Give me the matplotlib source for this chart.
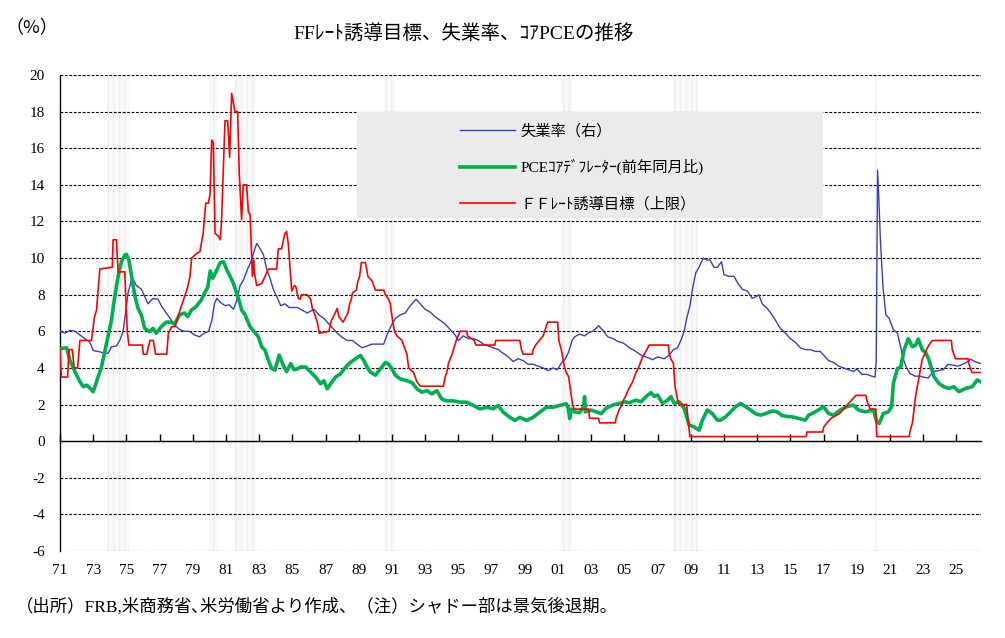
import matplotlib
matplotlib.use("Agg")
import matplotlib.pyplot as plt
from matplotlib.patches import Rectangle

plt.rcParams['font.family'] = ['Liberation Serif', 'Noto Sans CJK JP']
plt.rcParams['axes.unicode_minus'] = False

# --- data (decimal years) ---
unemp_year = [1971.0, 1971.3, 1971.6, 1971.9, 1972.2, 1972.5, 1972.8, 1973.0, 1973.3, 1973.7,
              1973.9, 1974.1, 1974.4, 1974.6, 1974.8, 1974.95, 1975.1, 1975.35, 1975.6, 1975.9,
              1976.1, 1976.3, 1976.6, 1976.9, 1977.1, 1977.4, 1977.6, 1977.9, 1978.2, 1978.5,
              1978.8, 1979.1, 1979.4, 1979.7, 1979.95, 1980.15, 1980.3, 1980.45, 1980.7, 1980.95,
              1981.2, 1981.45, 1981.65, 1981.85, 1982.05, 1982.3, 1982.5, 1982.7, 1982.85, 1983.0,
              1983.25, 1983.45, 1983.65, 1983.85, 1984.1, 1984.3, 1984.55, 1984.8, 1985.0, 1985.3,
              1985.6, 1985.9, 1986.1, 1986.3, 1986.6, 1986.9, 1987.1, 1987.4, 1987.7, 1987.95,
              1988.3, 1988.6, 1988.9, 1989.2, 1989.5, 1989.8, 1990.0, 1990.3, 1990.5, 1990.7,
              1990.95, 1991.2, 1991.5, 1991.8, 1992.1, 1992.45, 1992.7, 1993.0, 1993.3, 1993.6,
              1993.9, 1994.2, 1994.5, 1994.8, 1995.0, 1995.3, 1995.6, 1995.9, 1996.2, 1996.5,
              1996.8, 1997.1, 1997.4, 1997.7, 1998.0, 1998.3, 1998.6, 1998.9, 1999.2, 1999.5,
              1999.8, 2000.1, 2000.4, 2000.7, 2000.95, 2001.2, 2001.45, 2001.65, 2001.85, 2002.0,
              2002.3, 2002.6, 2002.9, 2003.1, 2003.45, 2003.7, 2004.0, 2004.3, 2004.6, 2004.95,
              2005.3, 2005.6, 2006.0, 2006.3, 2006.7, 2007.0, 2007.4, 2007.7, 2007.95, 2008.2,
              2008.4, 2008.6, 2008.75, 2008.95, 2009.1, 2009.3, 2009.5, 2009.75, 2009.95, 2010.15,
              2010.4, 2010.6, 2010.85, 2011.0, 2011.3, 2011.6, 2011.85, 2012.1, 2012.4, 2012.7,
              2012.95, 2013.1, 2013.3, 2013.6, 2013.9, 2014.1, 2014.4, 2014.7, 2015.0, 2015.3,
              2015.6, 2015.9, 2016.2, 2016.5, 2016.8, 2017.0, 2017.3, 2017.6, 2017.9, 2018.2,
              2018.5, 2018.8, 2019.0, 2019.3, 2019.6, 2019.9, 2020.1, 2020.17, 2020.25, 2020.33,
              2020.42, 2020.58, 2020.75, 2020.95, 2021.2, 2021.45, 2021.6, 2021.8, 2022.0, 2022.2,
              2022.5, 2022.8, 2023.0, 2023.3, 2023.6, 2023.9, 2024.2, 2024.5, 2024.8, 2025.1,
              2025.4, 2025.7, 2025.85, 2026.1, 2026.45]
unemp_rate = [6.0, 5.9, 6.05, 6.0, 5.8, 5.6, 5.4, 4.95, 4.9, 4.8,
              4.8, 5.15, 5.2, 5.5, 6.0, 7.0, 8.1, 8.95, 8.5, 8.3,
              7.9, 7.5, 7.8, 7.75, 7.4, 7.0, 6.75, 6.35, 6.1, 6.0,
              6.0, 5.8, 5.7, 5.9, 6.0, 6.6, 7.5, 7.8, 7.55, 7.4,
              7.45, 7.2, 7.7, 8.5, 8.8, 9.4, 9.8, 10.4, 10.8, 10.6,
              10.2, 9.4, 8.9, 8.3, 7.8, 7.4, 7.5, 7.3, 7.3, 7.3,
              7.15, 7.0, 7.1, 7.2, 6.9, 6.7, 6.5, 6.2, 5.9, 5.7,
              5.5, 5.5, 5.3, 5.1, 5.2, 5.3, 5.3, 5.3, 5.3, 5.8,
              6.3, 6.7, 6.9, 7.0, 7.4, 7.75, 7.5, 7.2, 7.05, 6.8,
              6.6, 6.4, 6.1, 5.8, 5.5, 5.75, 5.6, 5.6, 5.5, 5.3,
              5.2, 5.1, 5.0, 4.8, 4.6, 4.35, 4.5, 4.4, 4.2, 4.2,
              4.1, 4.0, 3.85, 4.0, 3.9, 4.25, 4.5, 4.9, 5.5, 5.7,
              5.85, 5.75, 5.95, 6.0, 6.3, 6.05, 5.7, 5.6, 5.45, 5.35,
              5.1, 4.95, 4.7, 4.6, 4.45, 4.6, 4.5, 4.7, 5.0, 5.1,
              5.5, 6.0, 6.7, 7.4, 8.3, 9.2, 9.5, 10.0, 9.9, 9.9,
              9.5, 9.5, 9.8, 9.1, 9.0, 9.0, 8.6, 8.3, 8.2, 7.8,
              7.9, 8.0, 7.5, 7.25, 6.9, 6.6, 6.15, 5.9, 5.6, 5.4,
              5.1, 5.0, 5.0, 4.9, 4.9, 4.7, 4.4, 4.3, 4.1, 4.0,
              3.9, 3.8, 3.95, 3.65, 3.65, 3.55, 3.5, 4.4, 14.8, 13.2,
              11.0, 8.4, 6.9, 6.7, 6.1, 5.9, 5.3, 4.5, 4.0, 3.7,
              3.55, 3.55, 3.5, 3.45, 3.8, 3.85, 3.9, 4.2, 4.15, 4.1,
              4.2, 4.35, 4.48, 4.35, 4.25]

pce_year = [1971.0, 1971.4, 1971.6, 1971.9, 1972.2, 1972.4, 1972.6, 1972.8, 1973.0, 1973.2,
            1973.5, 1973.8, 1974.1, 1974.3, 1974.5, 1974.7, 1974.9, 1975.0, 1975.15, 1975.3,
            1975.5, 1975.7, 1975.9, 1976.1, 1976.4, 1976.6, 1976.8, 1977.1, 1977.4, 1977.7,
            1977.9, 1978.2, 1978.5, 1978.7, 1978.9, 1979.2, 1979.5, 1979.7, 1979.9, 1980.05,
            1980.2, 1980.45, 1980.65, 1980.85, 1981.05, 1981.25, 1981.45, 1981.75, 1981.95, 1982.15,
            1982.45, 1982.65, 1982.95, 1983.15, 1983.35, 1983.55, 1983.75, 1983.95, 1984.2, 1984.45,
            1984.65, 1984.9, 1985.1, 1985.3, 1985.5, 1985.8, 1986.1, 1986.4, 1986.7, 1986.9,
            1987.1, 1987.3, 1987.6, 1987.9, 1988.2, 1988.5, 1988.8, 1989.1, 1989.3, 1989.5,
            1989.7, 1990.0, 1990.3, 1990.6, 1990.8, 1991.0, 1991.2, 1991.5, 1991.9, 1992.2,
            1992.5, 1992.8, 1993.1, 1993.4, 1993.7, 1994.0, 1994.3, 1994.7, 1995.1, 1995.5,
            1995.9, 1996.3, 1996.7, 1997.1, 1997.4, 1997.7, 1998.1, 1998.4, 1998.7, 1999.1,
            1999.5, 1999.9, 2000.3, 2000.7, 2001.1, 2001.5, 2001.62, 2001.7, 2001.8, 2002.0,
            2002.3, 2002.55, 2002.6, 2002.65, 2003.0, 2003.3, 2003.6, 2003.9, 2004.3, 2004.7,
            2005.0, 2005.3, 2005.7, 2006.0, 2006.3, 2006.6, 2006.8, 2007.0, 2007.3, 2007.6,
            2007.8, 2008.0, 2008.3, 2008.6, 2008.9, 2009.2, 2009.5, 2009.7, 2010.0, 2010.3,
            2010.6, 2010.8, 2011.1, 2011.4, 2011.7, 2012.0, 2012.3, 2012.6, 2012.9, 2013.2,
            2013.5, 2013.9, 2014.2, 2014.5, 2014.8, 2015.1, 2015.5, 2015.9, 2016.1, 2016.5,
            2017.0, 2017.3, 2017.6, 2018.0, 2018.4, 2018.8, 2019.1, 2019.5, 2020.0, 2020.2,
            2020.35, 2020.6, 2020.9, 2021.1, 2021.2, 2021.45, 2021.65, 2021.85, 2022.1, 2022.35,
            2022.55, 2022.7, 2022.95, 2023.15, 2023.35, 2023.65, 2023.95, 2024.25, 2024.55, 2024.85,
            2025.15, 2025.55, 2025.95, 2026.25, 2026.45]
pce_yoy = [5.05, 5.1, 4.4, 3.8, 3.25, 2.97, 3.06, 2.9, 2.7, 3.25,
           4.06, 5.34, 6.6, 7.9, 9.0, 9.8, 10.16, 10.2, 9.9, 9.07,
           7.98, 7.25, 6.9, 6.16, 5.97, 6.16, 5.9, 6.25, 6.5, 6.5,
           6.4, 6.9, 7.0, 6.8, 7.15, 7.35, 7.7, 8.07, 8.4, 9.3,
           8.9, 9.35, 9.75, 9.8, 9.35, 9.0, 8.6, 7.8, 7.15, 6.9,
           6.25, 6.03, 5.7, 5.15, 4.97, 4.43, 3.97, 3.88, 4.7, 4.15,
           3.8, 4.24, 3.9, 3.95, 4.05, 4.05, 3.77, 3.5, 3.13, 3.3,
           2.86, 3.13, 3.5, 3.68, 4.04, 4.3, 4.5, 4.68, 4.4, 4.05,
           3.77, 3.6, 3.95, 4.3, 4.2, 3.95, 3.6, 3.4, 3.3, 3.2,
           2.86, 2.67, 2.76, 2.58, 2.76, 2.3, 2.2, 2.2, 2.13, 2.13,
           1.95, 1.76, 1.85, 1.77, 1.95, 1.58, 1.3, 1.13, 1.3, 1.13,
           1.3, 1.58, 1.85, 1.85, 1.95, 2.04, 1.79, 1.24, 1.75, 1.6,
           1.55, 1.9, 2.43, 1.6, 1.7, 1.6, 1.5, 1.8, 1.97, 2.06,
           2.15, 2.1, 2.24, 2.15, 2.43, 2.65, 2.45, 2.52, 2.06, 2.24,
           2.43, 2.06, 2.15, 1.79, 0.88, 0.78, 0.6, 1.15, 1.7, 1.5,
           1.15, 1.15, 1.33, 1.6, 1.88, 2.06, 1.88, 1.7, 1.5, 1.42,
           1.5, 1.65, 1.6, 1.4, 1.35, 1.33, 1.24, 1.15, 1.42, 1.6,
           1.88, 1.51, 1.42, 1.7, 1.88, 1.97, 1.7, 1.6, 1.7, 1.06,
           0.97, 1.51, 1.6, 1.88, 3.15, 3.97, 4.06, 4.98, 5.6, 5.16,
           5.25, 5.58, 4.98, 4.83, 4.43, 3.52, 3.15, 2.97, 2.88, 2.97,
           2.7, 2.88, 2.97, 3.34, 3.25]

ff_year = [1971.0, 1971.08, 1971.46, 1971.54, 1971.74, 1971.85, 1972.06, 1972.2, 1972.9, 1973.07,
           1973.2, 1973.4, 1974.15, 1974.2, 1974.4, 1974.5, 1974.9, 1975.05, 1975.15, 1975.96,
           1976.02, 1976.22, 1976.42, 1976.62, 1976.76, 1977.43, 1977.53, 1977.73, 1977.93, 1978.23,
           1978.43, 1978.69, 1978.83, 1978.93, 1979.23, 1979.43, 1979.63, 1979.78, 1979.94, 1980.04,
           1980.14, 1980.24, 1980.34, 1980.54, 1980.66, 1980.74, 1980.94, 1981.1, 1981.22, 1981.34,
           1981.54, 1981.7, 1981.8, 1981.94, 1982.04, 1982.24, 1982.35, 1982.45, 1982.59, 1982.67,
           1982.71, 1982.85, 1983.15, 1983.35, 1983.55, 1984.05, 1984.15, 1984.35, 1984.55, 1984.65,
           1984.75, 1984.96, 1985.12, 1985.2, 1985.36, 1985.46, 1985.56, 1985.9, 1986.1, 1986.2,
           1986.35, 1986.5, 1986.62, 1987.2, 1987.35, 1987.45, 1987.7, 1987.8, 1988.05, 1988.2,
           1988.35, 1988.45, 1988.55, 1988.62, 1988.85, 1988.95, 1989.05, 1989.15, 1989.4, 1989.45,
           1989.55, 1989.8, 1989.9, 1990.0, 1990.5, 1990.6, 1990.8, 1990.9, 1990.97, 1991.05,
           1991.15, 1991.3, 1991.6, 1991.7, 1991.8, 1991.9, 1992.0, 1992.3, 1992.5, 1992.7,
           1994.1, 1994.2, 1994.3, 1994.4, 1994.62, 1994.87, 1995.1, 1995.5, 1995.55, 1995.95,
           1996.05, 1997.2, 1997.25, 1998.7, 1998.8, 1998.9, 1999.45, 1999.5, 1999.65, 1999.87,
           2000.1, 2000.2, 2000.38, 2000.98, 2001.05, 2001.2, 2001.3, 2001.4, 2001.5, 2001.65,
           2001.72, 2001.8, 2001.88, 2001.96, 2002.85, 2002.9, 2003.45, 2003.5, 2004.45, 2004.5,
           2004.6, 2004.7, 2004.85, 2004.95, 2005.1, 2005.2, 2005.35, 2005.5, 2005.6, 2005.7,
           2005.85, 2005.95, 2006.05, 2006.2, 2006.35, 2006.5, 2007.65, 2007.7, 2007.8, 2007.95,
           2008.05, 2008.2, 2008.3, 2008.75, 2008.8, 2008.85, 2008.95, 2015.95, 2016.0, 2016.95,
           2017.0, 2017.2, 2017.45, 2017.95, 2018.2, 2018.45, 2018.7, 2018.95, 2019.55, 2019.6,
           2019.7, 2019.8, 2020.15, 2020.2, 2022.15, 2022.2, 2022.35, 2022.45, 2022.55, 2022.7,
           2022.85, 2022.95, 2023.1, 2023.2, 2023.35, 2023.55, 2024.7, 2024.75, 2024.85, 2024.95,
           2025.7, 2025.75, 2025.83, 2025.95, 2026.45]
ff_rate = [5.0, 3.5, 3.5, 5.0, 5.0, 4.0, 4.0, 5.5, 5.5, 6.75,
           7.15, 9.4, 9.5, 11.0, 11.0, 9.25, 9.25, 6.0, 5.25, 5.25,
           4.75, 4.75, 5.5, 5.5, 4.75, 4.75, 5.9, 6.25, 6.25, 7.15,
           7.7, 8.4, 9.0, 10.0, 10.25, 10.35, 11.4, 13.0, 13.0, 13.5,
           16.45, 16.3, 11.35, 11.2, 11.0, 12.25, 17.5, 17.5, 15.5, 19.0,
           18.0, 18.0, 14.6, 12.1, 14.0, 14.0, 12.5, 12.4, 9.0, 9.9,
           9.2, 8.5, 8.6, 9.0, 9.4, 9.4, 10.5, 10.5, 11.35, 11.45,
           10.8, 8.2, 8.5, 8.45, 7.8, 7.75, 8.0, 8.0, 7.75, 7.25,
           6.9, 6.5, 5.9, 6.0, 6.6, 6.75, 7.25, 6.8, 6.5, 6.75,
           7.0, 7.5, 7.75, 8.1, 8.25, 8.75, 9.0, 9.75, 9.75, 9.5,
           9.0, 8.75, 8.5, 8.25, 8.25, 8.0, 7.75, 7.5, 7.0, 6.5,
           6.0, 5.75, 5.5, 5.25, 5.0, 4.75, 4.0, 3.75, 3.25, 3.0,
           3.0, 3.5, 3.75, 4.25, 4.75, 5.5, 6.0, 6.0, 5.75, 5.5,
           5.25, 5.25, 5.5, 5.5, 5.0, 4.75, 4.75, 5.0, 5.25, 5.5,
           5.75, 6.0, 6.5, 6.5, 5.5, 5.0, 4.5, 4.0, 3.75, 3.5,
           3.0, 2.5, 2.0, 1.75, 1.75, 1.25, 1.25, 1.0, 1.0, 1.25,
           1.5, 1.75, 2.0, 2.25, 2.5, 2.75, 3.0, 3.25, 3.5, 3.75,
           4.0, 4.25, 4.5, 4.75, 5.0, 5.25, 5.25, 4.75, 4.5, 4.25,
           3.0, 2.25, 2.0, 2.0, 1.5, 1.0, 0.25, 0.25, 0.5, 0.5,
           0.75, 1.0, 1.25, 1.5, 1.75, 2.0, 2.25, 2.5, 2.5, 2.25,
           2.0, 1.75, 1.75, 0.25, 0.25, 0.5, 1.0, 1.75, 2.5, 3.25,
           4.0, 4.5, 4.75, 5.0, 5.25, 5.5, 5.5, 5.0, 4.75, 4.5,
           4.5, 4.25, 4.0, 3.75, 3.75]

recession_start = [1973.83, 1980.0, 1981.5, 1990.5, 2001.17, 2007.92, 2020.1]
recession_end = [1975.17, 1980.5, 1982.83, 1991.17, 2001.83, 2009.42, 2020.3]

x_ticks = list(range(1971, 2026, 2))
x_labels = ['%02d' % (y % 100) for y in x_ticks]
y_ticks = list(range(-6, 21, 2))

title = 'FFﾚｰﾄ誘導目標、失業率、ｺｱPCEの推移'
labels = ['失業率（右）', 'PCEｺｱﾃﾞﾌﾚｰﾀｰ(前年同月比)', 'ＦＦﾚｰﾄ誘導目標（上限）']

# --- figure ---
fig = plt.figure(figsize=(10.05, 6.38), dpi=100)
ax = fig.add_axes([60 / 1005, 87 / 638, 921 / 1005, 476 / 638])
ax.set_xlim(1971, 1971 + 921 / 16.6)
ax.set_ylim(-6, 20)
ax.set_axisbelow(True)

# recession shading (faint vertical stripes)
for s, e in zip(recession_start, recession_end):
    ax.axvspan(s, e, facecolor='#f9f9f9', edgecolor='#efefef', hatch='|||', lw=0, zorder=0)

ax.grid(axis='y', color='black', lw=0.8, ls=(0, (2.5, 1.5)))
ax.set_yticks(y_ticks)
ax.set_yticklabels([str(v) for v in y_ticks])
ax.tick_params(axis='y', length=0, pad=11, labelsize=11)

for s in ['top', 'right']:
    ax.spines[s].set_visible(False)
ax.spines['left'].set_linewidth(1.0)
ax.spines['bottom'].set_position(('data', 0))
ax.spines['bottom'].set_linewidth(1.0)
ax.set_xticks(x_ticks)
ax.tick_params(axis='x', direction='in', length=5, width=1, labelbottom=False)

sec = ax.secondary_xaxis('bottom')
sec.set_xticks(x_ticks, labels=x_labels)
sec.tick_params(length=0, pad=9, labelsize=11)
sec.spines['bottom'].set_visible(False)

ax.add_patch(Rectangle((0.3225, 0.6996), 0.506, 0.2227, transform=ax.transAxes,
                       facecolor='#ebebeb', edgecolor='none', zorder=2))

l1, = ax.plot(unemp_year, unemp_rate, color='#3c3ccc', lw=1.0, zorder=3)
l2, = ax.plot(pce_year, pce_yoy, color='#00b050', lw=2.6, zorder=3)
l3, = ax.plot(ff_year, ff_rate, color='#ff0000', lw=1.2, zorder=4)

ax.legend([l1, l2, l3], labels, loc='upper left', bbox_to_anchor=(0.434, 0.898),
          frameon=False, fontsize=11, handlelength=3.6, handletextpad=0.4,
          labelspacing=1.38, borderpad=0, borderaxespad=0)

fig.text(464 / 1005, 1 - 33 / 638, title, ha='center', va='center', fontsize=14)
fig.text(32 / 1005, 1 - 28 / 638, '（%）', ha='center', va='center', fontsize=13,
         family=['Noto Sans CJK JP'])
fig.text(16 / 1005, 1 - 607 / 638, '（出所）FRB,米商務省､米労働省より作成、（注）シャドー部は景気後退期。',
         ha='left', va='center', fontsize=12.5)

fig.savefig('out.png', dpi=100)
